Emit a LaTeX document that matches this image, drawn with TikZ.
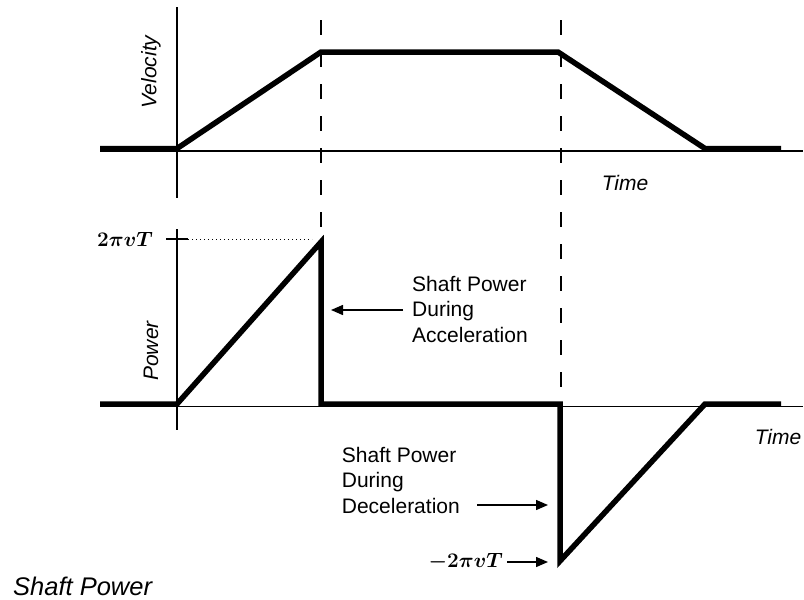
\documentclass[tikz,border=0pt]{standalone}
\usepackage{amsmath}
\usepackage{amssymb}
\usepackage{bm}
\usepackage{fontspec}
\setmainfont{Liberation Sans}
\usetikzlibrary{arrows.meta}

\begin{document}
\begin{tikzpicture}[x=1pt,y=-1pt,
    axis/.style={line width=1.1pt},
    profile/.style={line width=5.5pt,line join=miter},
    guide/.style={line width=1.3pt,dash pattern=on 15pt off 17pt},
    pointer/.style={line width=1.4pt,-{Triangle[length=12pt,width=10pt]}},
    lbl/.style={font=\fontsize{21}{25.5}\selectfont,inner sep=0pt},
    ax/.style={font=\fontsize{21}{25.5}\selectfont\itshape,inner sep=0pt}]

\useasboundingbox (0,0) rectangle (804,600);

% velocity
\coordinate (v0) at (100,148.5);
\coordinate (v1) at (177,148.5);
\coordinate (v2) at (321,52);
\coordinate (v3) at (558,52);
\coordinate (v4) at (705,148.5);
\coordinate (v5) at (781,148.5);

\coordinate (vxa) at (100,151);
\coordinate (vxb) at (803,151);
\coordinate (vya) at (177,7);
\coordinate (vyb) at (177,198);

\draw[axis] (vxa) -- (vxb);
\draw[axis] (vya) -- (vyb);
\draw[profile] (v0) -- (v1) -- (v2) -- (v3) -- (v4) -- (v5);

\node[ax,rotate=90] (vel) at (151,72) {Velocity};
\node[ax] (t1) at (625,183) {Time};

% power
\coordinate (p0) at (100,404);
\coordinate (p1) at (177,404);
\coordinate (p2) at (321,242);
\coordinate (p3) at (321,404);
\coordinate (p4) at (560,404);
\coordinate (p5) at (560,561);
\coordinate (p6) at (705,404);
\coordinate (p7) at (781,404);

\coordinate (pxa) at (100,406.5);
\coordinate (pxb) at (803,406.5);
\coordinate (pya) at (177,229);
\coordinate (pyb) at (177,430);

\draw[axis] (pxa) -- (pxb);
\draw[axis] (pya) -- (pyb);
\draw[profile] (p0) -- (p1) -- (p2) -- (p3) -- (p4) -- (p5) -- (p6) -- (p7);

% guide lines
\coordinate (ga) at (321,20);
\coordinate (gb) at (321,228);
\coordinate (gc) at (561,20);
\coordinate (gd) at (561,388);
\draw[guide] (ga) -- (gb);
\draw[guide] (gc) -- (gd);

% peak level
\coordinate (ka) at (166,239);
\coordinate (kb) at (188,239);
\coordinate (kc) at (312,239);
\draw[axis] (ka) -- (kb);
\draw[line width=1pt,dash pattern=on 1.2pt off 2.8pt] (kb) -- (kc);
\node[lbl,anchor=east] (pk) at (153,239) {$\bm{2\pi vT}$};

\node[ax,rotate=90] (pow) at (151,351) {Power};
\node[ax] (t2) at (778,437) {Time};

% notes
\node[lbl,align=left,anchor=west] (acc) at (412,309) {Shaft Power\\During\\Acceleration};
\coordinate (aa) at (403,310);
\coordinate (ab) at (331,310);
\draw[pointer] (aa) -- (ab);

\node[lbl,align=left,anchor=east] (dec) at (460,480) {Shaft Power\\During\\Deceleration};
\coordinate (da) at (477,505);
\coordinate (db) at (548,505);
\draw[pointer] (da) -- (db);

\node[lbl,anchor=east] (nk) at (503,562) {$\bm{{-}2\pi vT}$};
\coordinate (na) at (507,562);
\coordinate (nb) at (548,562);
\draw[pointer] (na) -- (nb);

\node[ax,font=\fontsize{25.5}{30}\selectfont\itshape,anchor=base west,text depth=0pt] (cap) at (13,595) {Shaft Power};

\end{tikzpicture}
\end{document}
